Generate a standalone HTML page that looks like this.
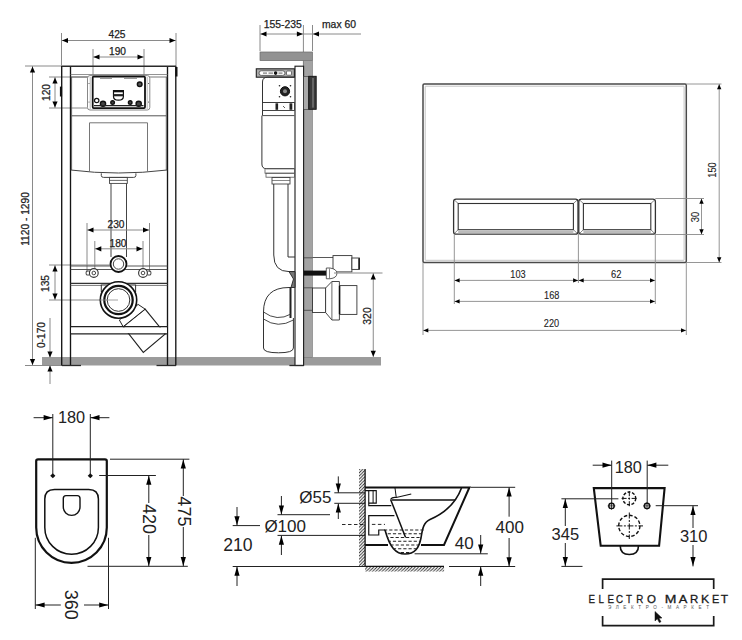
<!DOCTYPE html>
<html><head><meta charset="utf-8"><style>
html,body{margin:0;padding:0;background:#fff;}
body{width:742px;height:640px;overflow:hidden;position:relative;}
svg{position:absolute;left:0;top:0;font-family:"Liberation Sans",sans-serif;}
</style></head><body>
<svg width="742" height="640" viewBox="0 0 742 640">
<rect x="0" y="0" width="742" height="640" fill="#fff"/>
<rect x="42" y="357.5" width="339" height="8" fill="#9b9b9b" stroke="none" stroke-width="0" rx="0" />
<line x1="42" y1="357.5" x2="381" y2="357.5" stroke="#7a7a7a" stroke-width="0.6" />
<line x1="61.5" y1="33" x2="61.5" y2="66" stroke="#8a8a8a" stroke-width="1" />
<line x1="176" y1="33" x2="176" y2="66" stroke="#8a8a8a" stroke-width="1" />
<line x1="61.5" y1="40.5" x2="176" y2="40.5" stroke="#8a8a8a" stroke-width="1" />
<polygon points="62.00,40.50 68.00,37.90 68.00,43.10" fill="#000"/>
<polygon points="175.50,40.50 169.50,43.10 169.50,37.90" fill="#000"/>
<text x="117" y="37.62" font-size="10.2" text-anchor="middle" fill="#222" stroke="#222" stroke-width="0.25">425</text>
<line x1="93" y1="49" x2="93" y2="77" stroke="#8a8a8a" stroke-width="1" />
<line x1="144" y1="49" x2="144" y2="77" stroke="#8a8a8a" stroke-width="1" />
<line x1="93" y1="57" x2="144" y2="57" stroke="#8a8a8a" stroke-width="1" />
<polygon points="93.50,57.00 99.50,54.40 99.50,59.60" fill="#000"/>
<polygon points="143.50,57.00 137.50,59.60 137.50,54.40" fill="#000"/>
<text x="117.5" y="54.62" font-size="10.2" text-anchor="middle" fill="#222" stroke="#222" stroke-width="0.25">190</text>
<line x1="25" y1="66" x2="62" y2="66" stroke="#8a8a8a" stroke-width="1" />
<line x1="25" y1="365.5" x2="62" y2="365.5" stroke="#8a8a8a" stroke-width="1" />
<line x1="32.5" y1="66" x2="32.5" y2="365.5" stroke="#8a8a8a" stroke-width="1" />
<polygon points="32.50,66.50 35.10,72.50 29.90,72.50" fill="#000"/>
<polygon points="32.50,365.00 29.90,359.00 35.10,359.00" fill="#000"/>
<text x="25.4" y="222.62" font-size="10.2" text-anchor="middle" fill="#222" stroke="#222" stroke-width="0.25" transform="rotate(-90 25.4 219)">1120 - 1290</text>
<line x1="49" y1="77" x2="90" y2="77" stroke="#8a8a8a" stroke-width="1" />
<line x1="49" y1="108" x2="90" y2="108" stroke="#8a8a8a" stroke-width="1" />
<line x1="55" y1="77" x2="55" y2="108" stroke="#8a8a8a" stroke-width="1" />
<polygon points="55.00,77.50 57.60,83.50 52.40,83.50" fill="#000"/>
<polygon points="55.00,107.50 52.40,101.50 57.60,101.50" fill="#000"/>
<text x="46" y="96.12" font-size="10.2" text-anchor="middle" fill="#222" stroke="#222" stroke-width="0.25" transform="rotate(-90 46 92.5)">120</text>
<line x1="49" y1="265" x2="110" y2="265" stroke="#8a8a8a" stroke-width="1" />
<line x1="49" y1="300" x2="118" y2="300" stroke="#8a8a8a" stroke-width="1" />
<line x1="55" y1="265" x2="55" y2="300" stroke="#8a8a8a" stroke-width="1" />
<polygon points="55.00,265.50 57.60,271.50 52.40,271.50" fill="#000"/>
<polygon points="55.00,299.50 52.40,293.50 57.60,293.50" fill="#000"/>
<text x="45.8" y="287.12" font-size="10.2" text-anchor="middle" fill="#222" stroke="#222" stroke-width="0.25" transform="rotate(-90 45.8 283.5)">135</text>
<line x1="50" y1="318" x2="50" y2="357.5" stroke="#8a8a8a" stroke-width="1" />
<line x1="50" y1="365.5" x2="50" y2="384" stroke="#8a8a8a" stroke-width="1" />
<polygon points="50.00,357.50 47.40,351.50 52.60,351.50" fill="#000"/>
<polygon points="50.00,365.50 52.60,371.50 47.40,371.50" fill="#000"/>
<text x="41.6" y="338.62" font-size="10.2" text-anchor="middle" fill="#222" stroke="#222" stroke-width="0.25" transform="rotate(-90 41.6 335)">0-170</text>
<line x1="61.7" y1="66" x2="61.7" y2="365.5" stroke="#151515" stroke-width="1.35" />
<line x1="70.5" y1="66" x2="70.5" y2="365.5" stroke="#151515" stroke-width="1.35" />
<line x1="167.5" y1="66" x2="167.5" y2="365.5" stroke="#151515" stroke-width="1.35" />
<line x1="175.8" y1="66" x2="175.8" y2="365.5" stroke="#151515" stroke-width="1.35" />
<line x1="62" y1="66.3" x2="176" y2="66.3" stroke="#2a2a2a" stroke-width="1.4" />
<line x1="70.5" y1="74.5" x2="167.5" y2="74.5" stroke="#777" stroke-width="0.8" />
<line x1="70.5" y1="77" x2="167.5" y2="77" stroke="#555" stroke-width="0.8" />
<line x1="176.4" y1="67" x2="176.4" y2="76.5" stroke="#111" stroke-width="2.2" />
<line x1="61.0" y1="86.6" x2="61.0" y2="96.5" stroke="#111" stroke-width="2.2" />
<line x1="62" y1="365.5" x2="81" y2="365.5" stroke="#2a2a2a" stroke-width="1.3" />
<line x1="156.5" y1="365.5" x2="176" y2="365.5" stroke="#2a2a2a" stroke-width="1.3" />
<line x1="71.6" y1="77" x2="71.6" y2="170" stroke="#555" stroke-width="0.9" />
<line x1="166.3" y1="77" x2="166.3" y2="170" stroke="#555" stroke-width="0.9" />
<line x1="71.6" y1="115.8" x2="166.3" y2="115.8" stroke="#555" stroke-width="1" />
<path d="M70.6,170 Q118,176 167.3,170" fill="none" stroke="#444" stroke-width="1" />
<rect x="87.5" y="75.6" width="62.3" height="34.4" fill="#fff" stroke="#888" stroke-width="1" rx="2.5" />
<line x1="90.2" y1="77" x2="90.2" y2="109" stroke="#aaa" stroke-width="0.8" />
<line x1="147.2" y1="77" x2="147.2" y2="109" stroke="#aaa" stroke-width="0.8" />
<circle cx="89" cy="83.5" r="0.5" fill="#333" stroke="none" stroke-width="0" />
<circle cx="89" cy="102" r="0.5" fill="#333" stroke="none" stroke-width="0" />
<circle cx="148.5" cy="83.5" r="0.5" fill="#333" stroke="none" stroke-width="0" />
<circle cx="148.5" cy="102" r="0.5" fill="#333" stroke="none" stroke-width="0" />
<rect x="92.7" y="76.6" width="52.3" height="31.5" fill="none" stroke="#111" stroke-width="1.8" rx="1" />
<line x1="100" y1="78.5" x2="112" y2="78.5" stroke="#999" stroke-width="1" />
<line x1="124" y1="78.5" x2="137" y2="78.5" stroke="#999" stroke-width="1" />
<circle cx="139.7" cy="84.2" r="2.3" fill="#555" stroke="#111" stroke-width="1.5" />
<circle cx="96.7" cy="100.5" r="2.2" fill="none" stroke="#111" stroke-width="1.2" />
<circle cx="103" cy="103.8" r="2.6" fill="#444" stroke="#111" stroke-width="1.4" />
<circle cx="112.6" cy="102.6" r="1.8" fill="#444" stroke="#111" stroke-width="1.4" />
<circle cx="130.2" cy="102.6" r="1.8" fill="#444" stroke="#111" stroke-width="1.4" />
<circle cx="138.7" cy="103.8" r="2.6" fill="#444" stroke="#111" stroke-width="1.4" />
<line x1="94" y1="105.6" x2="143.5" y2="105.6" stroke="#222" stroke-width="1.2" />
<path d="M113.5,90.5 L123.4,90.5 L123.4,96.5 Q123.4,100.2 118.45,100.2 Q113.5,100.2 113.5,96.5 Z" fill="#fff" stroke="#111" stroke-width="1.2" />
<rect x="113.5" y="90.5" width="9.9" height="1.8" fill="#111" stroke="none" stroke-width="0" rx="0" />
<rect x="113.5" y="94.1" width="9.9" height="2.2" fill="#222" stroke="none" stroke-width="0" rx="0" />
<line x1="89.5" y1="122.8" x2="147.5" y2="122.8" stroke="#666" stroke-width="0.9" />
<line x1="89.5" y1="122.8" x2="89.5" y2="171.5" stroke="#666" stroke-width="0.9" />
<line x1="147.5" y1="122.8" x2="147.5" y2="171.5" stroke="#666" stroke-width="0.9" />
<path d="M101.3,173.3 L101.3,175.5 Q101.3,177.4 103.5,177.4 L133.7,177.4 Q135.9,177.4 135.9,175.5 L135.9,173.3" fill="none" stroke="#444" stroke-width="1" />
<rect x="109.5" y="177.4" width="17.8" height="6" fill="none" stroke="#444" stroke-width="0.9" rx="0" />
<line x1="109.5" y1="180.4" x2="127.3" y2="180.4" stroke="#444" stroke-width="0.8" />
<line x1="111" y1="183.4" x2="111" y2="257" stroke="#444" stroke-width="1" />
<line x1="126.5" y1="183.4" x2="126.5" y2="257" stroke="#444" stroke-width="1" />
<line x1="87" y1="223" x2="87" y2="272" stroke="#8a8a8a" stroke-width="1" />
<line x1="149.5" y1="223" x2="149.5" y2="272" stroke="#8a8a8a" stroke-width="1" />
<line x1="87" y1="230" x2="149.5" y2="230" stroke="#8a8a8a" stroke-width="1" />
<polygon points="87.50,230.00 93.50,227.40 93.50,232.60" fill="#000"/>
<polygon points="149.00,230.00 143.00,232.60 143.00,227.40" fill="#000"/>
<text x="116" y="227.62" font-size="10.2" text-anchor="middle" fill="#222" stroke="#222" stroke-width="0.25">230</text>
<line x1="94.8" y1="241" x2="94.8" y2="272" stroke="#8a8a8a" stroke-width="1" />
<line x1="143" y1="241" x2="143" y2="272" stroke="#8a8a8a" stroke-width="1" />
<line x1="94.8" y1="248.8" x2="143" y2="248.8" stroke="#8a8a8a" stroke-width="1" />
<polygon points="95.30,248.80 101.30,246.20 101.30,251.40" fill="#000"/>
<polygon points="142.50,248.80 136.50,251.40 136.50,246.20" fill="#000"/>
<text x="118" y="246.62" font-size="10.2" text-anchor="middle" fill="#222" stroke="#222" stroke-width="0.25">180</text>
<line x1="70.5" y1="266" x2="167.5" y2="266" stroke="#444" stroke-width="0.9" />
<line x1="70.5" y1="269.5" x2="167.5" y2="269.5" stroke="#444" stroke-width="0.9" />
<line x1="70.5" y1="283.4" x2="167.5" y2="283.4" stroke="#333" stroke-width="1.1" />
<line x1="70.5" y1="285.4" x2="167.5" y2="285.4" stroke="#555" stroke-width="0.8" />
<circle cx="118.5" cy="264" r="8.0" fill="#fff" stroke="#111" stroke-width="1.8" />
<circle cx="118.5" cy="264" r="5.2" fill="none" stroke="#444" stroke-width="1" />
<circle cx="93.8" cy="273" r="4.4" fill="#fff" stroke="#333" stroke-width="1.1" />
<circle cx="93.8" cy="273" r="1.8" fill="none" stroke="#333" stroke-width="0.9" />
<circle cx="143" cy="273" r="4.4" fill="#fff" stroke="#333" stroke-width="1.1" />
<circle cx="143" cy="273" r="1.8" fill="none" stroke="#333" stroke-width="0.9" />
<path d="M89.4,271 L86.5,271 Q85.5,273 86.5,275 L89.4,275" fill="none" stroke="#333" stroke-width="0.9" />
<path d="M147.4,271 L150.5,271 Q151.5,273 150.5,275 L147.4,275" fill="none" stroke="#333" stroke-width="0.9" />
<path d="M123.1,326.7 L145.1,309.1 L165.3,333.9 L143.3,352.4 Z" fill="#fff" stroke="#222" stroke-width="1.1" />
<path d="M119.4,320 L138.1,304.4 L145.1,309.1 L123.1,326.7 Z" fill="#fff" stroke="#222" stroke-width="1" />
<rect x="71.2" y="327.4" width="95.6" height="5.8" fill="#fff" stroke="none" stroke-width="0" rx="0" />
<line x1="70.5" y1="326.7" x2="167.5" y2="326.7" stroke="#222" stroke-width="1.2" />
<line x1="70.5" y1="333.9" x2="167.5" y2="333.9" stroke="#222" stroke-width="1.2" />
<rect x="101.3" y="285" width="34.3" height="6.5" fill="#fff" stroke="#333" stroke-width="1" rx="0" />
<circle cx="118.5" cy="300" r="18.2" fill="#fff" stroke="#111" stroke-width="1.6" />
<circle cx="118.5" cy="300" r="14.2" fill="none" stroke="#111" stroke-width="2.2" />
<circle cx="118.5" cy="300" r="11.3" fill="none" stroke="#333" stroke-width="1" />
<line x1="100" y1="300" x2="118" y2="300" stroke="#8a8a8a" stroke-width="0.8" />
<line x1="260" y1="25" x2="260" y2="51" stroke="#8a8a8a" stroke-width="1" />
<line x1="303.4" y1="25" x2="303.4" y2="66" stroke="#8a8a8a" stroke-width="1" />
<line x1="312.5" y1="25" x2="312.5" y2="51" stroke="#8a8a8a" stroke-width="1" />
<line x1="260" y1="34" x2="361" y2="34" stroke="#8a8a8a" stroke-width="1" />
<polygon points="260.50,34.00 266.50,31.40 266.50,36.60" fill="#000"/>
<polygon points="302.90,34.00 296.90,36.60 296.90,31.40" fill="#000"/>
<polygon points="313.00,34.00 319.00,31.40 319.00,36.60" fill="#000"/>
<text x="282.7" y="27.99" font-size="10.4" text-anchor="middle" fill="#222" stroke="#222" stroke-width="0.25">155-235</text>
<text x="339" y="27.99" font-size="10.4" text-anchor="middle" fill="#222" stroke="#222" stroke-width="0.25">max 60</text>
<rect x="260" y="52" width="52.5" height="8.6" fill="#929292" stroke="#6a6a6a" stroke-width="0.7" rx="0" />
<rect x="303.7" y="60.6" width="8.8" height="296.9" fill="#a3a3a3" stroke="#777" stroke-width="0.6" rx="0" />
<rect x="295" y="66.2" width="8.6" height="299.3" fill="#fff" stroke="#1a1a1a" stroke-width="1.1" rx="0" />
<rect x="303.7" y="76.3" width="5" height="33" fill="#aaa" stroke="#333" stroke-width="0.6" rx="0" />
<rect x="308.8" y="76.3" width="7.4" height="33" fill="#3a3a3a" stroke="#111" stroke-width="0.9" rx="0" />
<rect x="312" y="78" width="2" height="29.6" fill="#666" stroke="none" stroke-width="0" rx="0" />
<rect x="256.3" y="68.8" width="38.1" height="8.4" fill="#aaa" stroke="#222" stroke-width="1.1" rx="0" />
<rect x="259" y="70.8" width="26" height="4.6" fill="#fff" stroke="#444" stroke-width="0.8" rx="2.3" />
<rect x="286.5" y="71" width="5" height="4.2" fill="#fff" stroke="#444" stroke-width="0.7" rx="1" />
<line x1="263" y1="73.1" x2="267" y2="73.1" stroke="#777" stroke-width="1.2" />
<line x1="268.5" y1="73.1" x2="273" y2="73.1" stroke="#777" stroke-width="1.2" />
<line x1="278.5" y1="73.1" x2="282.5" y2="73.1" stroke="#777" stroke-width="1.2" />
<circle cx="275.6" cy="73.1" r="1.8" fill="#111" stroke="none" stroke-width="0" />
<path d="M262.5,115.6 L262.5,82 Q262.5,77.2 267.5,77.2 L294.4,77.2" fill="none" stroke="#333" stroke-width="1" />
<line x1="262.5" y1="102.5" x2="294.4" y2="102.5" stroke="#333" stroke-width="1" />
<rect x="262.5" y="102.5" width="32" height="8" fill="#fff" stroke="#333" stroke-width="0.9" rx="0" />
<rect x="275.5" y="103.3" width="2.6" height="6.5" fill="#222" stroke="none" stroke-width="0" rx="0" />
<rect x="289.5" y="103.3" width="2.8" height="6.5" fill="#222" stroke="none" stroke-width="0" rx="0" />
<path d="M283,106 L285,108" fill="none" stroke="#333" stroke-width="0.8" />
<circle cx="285" cy="91.3" r="4.6" fill="#222" stroke="#111" stroke-width="1" />
<circle cx="285" cy="91.3" r="2.0" fill="#888" stroke="none" stroke-width="0" />
<circle cx="279.5" cy="85.8" r="0.8" fill="#222" stroke="none" stroke-width="0" />
<circle cx="290.5" cy="85.8" r="0.8" fill="#222" stroke="none" stroke-width="0" />
<circle cx="279.5" cy="96.8" r="0.8" fill="#222" stroke="none" stroke-width="0" />
<circle cx="290.5" cy="96.8" r="0.8" fill="#222" stroke="none" stroke-width="0" />
<line x1="262.5" y1="115.6" x2="294.4" y2="115.6" stroke="#333" stroke-width="0.9" />
<path d="M261.9,115.6 L261.9,164 Q261.9,168.7 266.5,168.7 L294.4,168.7" fill="none" stroke="#333" stroke-width="1" />
<rect x="265" y="168.7" width="29.4" height="4.5" fill="none" stroke="#555" stroke-width="0.8" rx="0" />
<rect x="266" y="173.2" width="28.4" height="4" fill="none" stroke="#555" stroke-width="0.8" rx="0" />
<rect x="272" y="177.5" width="18" height="6.5" fill="none" stroke="#444" stroke-width="0.9" rx="0" />
<line x1="272" y1="180.5" x2="290" y2="180.5" stroke="#555" stroke-width="0.7" />
<path d="M273.75,184 L273.75,255 Q273.75,271.6 289,271.6 L295,271.6" fill="none" stroke="#333" stroke-width="1" />
<path d="M288,184 L288,257 L295,257" fill="none" stroke="#333" stroke-width="1" />
<path d="M289,271.6 L293.5,279 L291,287.5 L295,287.5 L295,271.6 Z" fill="#777" stroke="#222" stroke-width="0.9" />
<line x1="303.7" y1="257.8" x2="312.5" y2="257.8" stroke="#333" stroke-width="0.7" />
<line x1="303.7" y1="287.8" x2="312.5" y2="287.8" stroke="#333" stroke-width="0.7" />
<line x1="303.7" y1="310.3" x2="312.5" y2="310.3" stroke="#333" stroke-width="0.7" />
<path d="M312.5,257.5 L333,257.5" fill="none" stroke="#444" stroke-width="0.9" />
<rect x="333" y="255.6" width="18.9" height="16.3" fill="#fff" stroke="#333" stroke-width="0.9" rx="0" />
<rect x="351.9" y="258" width="7.5" height="11.4" fill="#fff" stroke="#333" stroke-width="0.9" rx="0" />
<line x1="359" y1="258.2" x2="359" y2="269.2" stroke="#111" stroke-width="1.4" />
<rect x="303.7" y="270.6" width="22.6" height="5" fill="#111" stroke="none" stroke-width="0" rx="0" />
<path d="M326.3,268 L330,268 Q336.9,269 336.9,273.4 Q336.9,278 330,278.75 L326.3,278.75 Z" fill="#fff" stroke="#333" stroke-width="0.8" />
<line x1="329.5" y1="268.5" x2="329.5" y2="278.3" stroke="#555" stroke-width="0.7" />
<rect x="312.5" y="288" width="13.1" height="24.5" fill="#fff" stroke="#333" stroke-width="0.9" rx="0" />
<path d="M325.6,288 L331.9,281.5 L339.4,281.5 L339.4,320 L331.9,320 L325.6,312.5 Z" fill="#fff" stroke="#333" stroke-width="0.9" />
<line x1="331.9" y1="281.5" x2="331.9" y2="320" stroke="#444" stroke-width="0.8" />
<rect x="339.4" y="285.6" width="17.5" height="28.8" fill="#fff" stroke="#333" stroke-width="0.9" rx="0" />
<line x1="339.6" y1="286" x2="339.6" y2="314" stroke="#111" stroke-width="1.5" />
<path d="M263.5,312 L263.5,348 Q263.5,352.8 278.5,352.8 Q293.4,352.8 293.4,348 L293.4,318" fill="#fff" stroke="#333" stroke-width="1" />
<path d="M263.5,312 Q263.5,287.5 289,287.5 L295,287.5" fill="none" stroke="#333" stroke-width="1" />
<line x1="290.5" y1="287.5" x2="290.5" y2="318" stroke="#222" stroke-width="2" />
<path d="M263.5,312 Q277,322 291,314" fill="none" stroke="#333" stroke-width="0.9" />
<path d="M263.5,319 Q278,329 293.4,320" fill="none" stroke="#333" stroke-width="0.9" />
<line x1="289.4" y1="365.5" x2="303.7" y2="365.5" stroke="#2a2a2a" stroke-width="1.3" />
<line x1="334" y1="273" x2="382.5" y2="273" stroke="#8a8a8a" stroke-width="1" />
<line x1="373.25" y1="273" x2="373.25" y2="357" stroke="#8a8a8a" stroke-width="1" />
<polygon points="373.25,273.50 375.85,279.50 370.65,279.50" fill="#000"/>
<polygon points="373.25,356.80 370.65,350.80 375.85,350.80" fill="#000"/>
<text x="367.3" y="319.69" font-size="10.4" text-anchor="middle" fill="#222" stroke="#222" stroke-width="0.25" transform="rotate(-90 367.3 316)">320</text>
<rect x="423" y="84" width="263.3" height="178.5" fill="#fff" stroke="#4a4a4a" stroke-width="1.5" rx="1.2" />
<rect x="425.2" y="86.2" width="258.9" height="174.1" fill="none" stroke="#aaa" stroke-width="0.7" rx="0.5" />
<rect x="453.6" y="199.2" width="124.39999999999998" height="35" fill="#fff" stroke="#333" stroke-width="1.3" rx="2.5" />
<rect x="458.20000000000005" y="203.5" width="115.19999999999997" height="26.2" fill="none" stroke="#333" stroke-width="1.1" rx="0" />
<line x1="454.6" y1="200.2" x2="458.20000000000005" y2="203.5" stroke="#555" stroke-width="0.7" />
<line x1="577" y1="200.2" x2="573.4" y2="203.5" stroke="#555" stroke-width="0.7" />
<line x1="454.6" y1="233.2" x2="458.20000000000005" y2="229.7" stroke="#555" stroke-width="0.7" />
<line x1="577" y1="233.2" x2="573.4" y2="229.7" stroke="#555" stroke-width="0.7" />
<rect x="458.20000000000005" y="230.5" width="115.19999999999997" height="2.8" fill="#bbb" stroke="none" stroke-width="0" rx="0" />
<rect x="578.8" y="199.2" width="76.60000000000002" height="35" fill="#fff" stroke="#333" stroke-width="1.3" rx="2.5" />
<rect x="583.4" y="203.5" width="67.40000000000002" height="26.2" fill="none" stroke="#333" stroke-width="1.1" rx="0" />
<line x1="579.8" y1="200.2" x2="583.4" y2="203.5" stroke="#555" stroke-width="0.7" />
<line x1="654.4" y1="200.2" x2="650.8" y2="203.5" stroke="#555" stroke-width="0.7" />
<line x1="579.8" y1="233.2" x2="583.4" y2="229.7" stroke="#555" stroke-width="0.7" />
<line x1="654.4" y1="233.2" x2="650.8" y2="229.7" stroke="#555" stroke-width="0.7" />
<rect x="583.4" y="230.5" width="67.40000000000002" height="2.8" fill="#bbb" stroke="none" stroke-width="0" rx="0" />
<line x1="423" y1="262.5" x2="423" y2="335" stroke="#8a8a8a" stroke-width="0.9" />
<line x1="686.3" y1="262.5" x2="686.3" y2="335" stroke="#8a8a8a" stroke-width="0.9" />
<line x1="454.3" y1="234" x2="454.3" y2="304" stroke="#8a8a8a" stroke-width="0.9" />
<line x1="578.4" y1="234" x2="578.4" y2="283" stroke="#8a8a8a" stroke-width="0.9" />
<line x1="655.3" y1="234" x2="655.3" y2="304" stroke="#8a8a8a" stroke-width="0.9" />
<line x1="686.3" y1="84" x2="721.5" y2="84" stroke="#8a8a8a" stroke-width="0.9" />
<line x1="686.3" y1="262.5" x2="721.5" y2="262.5" stroke="#8a8a8a" stroke-width="0.9" />
<line x1="655.3" y1="198.5" x2="704" y2="198.5" stroke="#8a8a8a" stroke-width="0.9" />
<line x1="655.3" y1="234.5" x2="704" y2="234.5" stroke="#8a8a8a" stroke-width="0.9" />
<line x1="454.3" y1="280.4" x2="578.4" y2="280.4" stroke="#8a8a8a" stroke-width="0.9" />
<polygon points="454.60,280.40 459.60,278.20 459.60,282.60" fill="#000"/>
<polygon points="578.10,280.40 573.10,282.60 573.10,278.20" fill="#000"/>
<line x1="578.4" y1="280.4" x2="655.3" y2="280.4" stroke="#8a8a8a" stroke-width="0.9" />
<polygon points="578.70,280.40 583.70,278.20 583.70,282.60" fill="#000"/>
<polygon points="655.00,280.40 650.00,282.60 650.00,278.20" fill="#000"/>
<line x1="454.3" y1="301.4" x2="655.3" y2="301.4" stroke="#8a8a8a" stroke-width="0.9" />
<polygon points="454.60,301.40 459.60,299.20 459.60,303.60" fill="#000"/>
<polygon points="655.00,301.40 650.00,303.60 650.00,299.20" fill="#000"/>
<line x1="423" y1="330.4" x2="686.3" y2="330.4" stroke="#8a8a8a" stroke-width="0.9" />
<polygon points="423.30,330.40 428.30,328.20 428.30,332.60" fill="#000"/>
<polygon points="686.00,330.40 681.00,332.60 681.00,328.20" fill="#000"/>
<text x="518" y="278.06" font-size="10.3" text-anchor="middle" fill="#222" stroke="#222" stroke-width="0.1" textLength="15.3" lengthAdjust="spacingAndGlyphs">103</text>
<text x="616.3" y="278.06" font-size="10.3" text-anchor="middle" fill="#222" stroke="#222" stroke-width="0.1" textLength="10.4" lengthAdjust="spacingAndGlyphs">62</text>
<text x="551.7" y="298.56" font-size="10.3" text-anchor="middle" fill="#222" stroke="#222" stroke-width="0.1" textLength="15.3" lengthAdjust="spacingAndGlyphs">168</text>
<text x="551.5" y="326.76" font-size="10.3" text-anchor="middle" fill="#222" stroke="#222" stroke-width="0.1" textLength="15.3" lengthAdjust="spacingAndGlyphs">220</text>
<line x1="719.2" y1="84" x2="719.2" y2="262.5" stroke="#8a8a8a" stroke-width="0.9" />
<polygon points="719.20,84.30 721.40,89.30 717.00,89.30" fill="#000"/>
<polygon points="719.20,262.20 717.00,257.20 721.40,257.20" fill="#000"/>
<text x="711.9" y="173.66" font-size="10.3" text-anchor="middle" fill="#222" stroke="#222" stroke-width="0.1" transform="rotate(-90 711.9 170)" textLength="15.3" lengthAdjust="spacingAndGlyphs">150</text>
<line x1="701.5" y1="198.5" x2="701.5" y2="234.5" stroke="#8a8a8a" stroke-width="0.9" />
<polygon points="701.50,198.80 703.70,203.80 699.30,203.80" fill="#000"/>
<polygon points="701.50,234.20 699.30,229.20 703.70,229.20" fill="#000"/>
<text x="695.3" y="220.66" font-size="10.3" text-anchor="middle" fill="#222" stroke="#222" stroke-width="0.1" transform="rotate(-90 695.3 217)" textLength="10.4" lengthAdjust="spacingAndGlyphs">30</text>
<path d="M36.2,527.6 L36.2,461 Q36.2,459.4 38,459.4 L105,459.4 Q106.8,459.4 106.8,461 L106.8,527.6 A35.3,35.3 0 0 1 36.2,527.6 Z" fill="none" stroke="#111" stroke-width="2.2" />
<path d="M44.8,527.4 L44.8,499 Q44.8,489.4 54.5,489.4 L88.7,489.4 Q98.4,489.4 98.4,499 L98.4,527.4 A26.8,26.8 0 0 1 44.8,527.4 Z" fill="none" stroke="#111" stroke-width="1.5" />
<path d="M63.3,507 L63.3,498.5 Q63.3,495.6 66,495.6 L77.3,495.6 Q80,495.6 80,498.5 L80,507 A8.35,8.35 0 0 1 63.3,507 Z" fill="none" stroke="#111" stroke-width="1.4" />
<polygon points="52.8,473.3 55.4,475.8 52.8,478.3 50.199999999999996,475.8" fill="#111"/>
<polygon points="90.3,473.3 92.89999999999999,475.8 90.3,478.3 87.7,475.8" fill="#111"/>
<line x1="52.8" y1="414" x2="52.8" y2="474" stroke="#222" stroke-width="1" />
<line x1="90.3" y1="414" x2="90.3" y2="474" stroke="#222" stroke-width="1" />
<line x1="33.6" y1="417.7" x2="52.8" y2="417.7" stroke="#222" stroke-width="1" />
<line x1="90.3" y1="417.7" x2="109.4" y2="417.7" stroke="#222" stroke-width="1" />
<polygon points="52.60,417.70 43.60,420.30 43.60,415.10" fill="#000"/>
<polygon points="90.50,417.70 99.50,415.10 99.50,420.30" fill="#000"/>
<text x="71.6" y="423.39" font-size="16.3" text-anchor="middle" fill="#222">180</text>
<line x1="110" y1="459.2" x2="189.4" y2="459.2" stroke="#222" stroke-width="1" />
<line x1="99.2" y1="475.5" x2="155.9" y2="475.5" stroke="#222" stroke-width="1" />
<line x1="87.5" y1="566.3" x2="187.8" y2="566.3" stroke="#222" stroke-width="1" />
<line x1="148.8" y1="475.5" x2="148.8" y2="503" stroke="#222" stroke-width="1" />
<line x1="148.8" y1="535" x2="148.8" y2="566.3" stroke="#222" stroke-width="1" />
<polygon points="148.80,475.80 151.40,484.80 146.20,484.80" fill="#000"/>
<polygon points="148.80,566.00 146.20,557.00 151.40,557.00" fill="#000"/>
<text x="149.8" y="525.39" font-size="18" text-anchor="middle" fill="#222" transform="rotate(90 149.8 519)">420</text>
<line x1="183.3" y1="459.2" x2="183.3" y2="496" stroke="#222" stroke-width="1" />
<line x1="183.3" y1="527" x2="183.3" y2="566.3" stroke="#222" stroke-width="1" />
<polygon points="183.30,459.50 185.90,468.50 180.70,468.50" fill="#000"/>
<polygon points="183.30,566.00 180.70,557.00 185.90,557.00" fill="#000"/>
<text x="184.3" y="517.79" font-size="18" text-anchor="middle" fill="#222" transform="rotate(90 184.3 511.4)">475</text>
<line x1="35.3" y1="537.8" x2="35.3" y2="609" stroke="#222" stroke-width="1" />
<line x1="108.5" y1="537.8" x2="108.5" y2="609" stroke="#222" stroke-width="1" />
<line x1="35.3" y1="605" x2="60.8" y2="605" stroke="#222" stroke-width="1" />
<line x1="84" y1="605" x2="108.5" y2="605" stroke="#222" stroke-width="1" />
<polygon points="35.60,605.00 44.60,602.40 44.60,607.60" fill="#000"/>
<polygon points="108.20,605.00 99.20,607.60 99.20,602.40" fill="#000"/>
<text x="71.8" y="611.19" font-size="18" text-anchor="middle" fill="#222" transform="rotate(90 71.8 604.8)">360</text>
<defs><pattern id="h" width="3.2" height="3.2" patternUnits="userSpaceOnUse"><path d="M0,3.2 L3.2,0 M-1,1 L1,-1 M2.2,4.2 L4.2,2.2" stroke="#222" stroke-width="0.85"/></pattern></defs>
<rect x="359" y="469" width="6" height="97" fill="url(#h)" stroke="none" stroke-width="0" rx="0" />
<line x1="365.1" y1="469" x2="365.1" y2="566.3" stroke="#111" stroke-width="1.3" />
<line x1="365.1" y1="566.3" x2="444" y2="566.3" stroke="#111" stroke-width="1.3" />
<rect x="365.1" y="567" width="79" height="4.5" fill="url(#h)" stroke="none" stroke-width="0" rx="0" />
<path d="M365.1,487.5 L469.4,487.5 L444,545 L421,545" fill="none" stroke="#111" stroke-width="2" />
<line x1="365.1" y1="545" x2="388" y2="545" stroke="#111" stroke-width="2" />
<clipPath id="bw"><path d="M385,530 C390,548 396,554 405,554 C415,554 419,548 421,538 L422.3,530 Z"/></clipPath>
<path d="M385,530 C390,548 396,554 405,554 C415,554 419,548 421,538 C422.5,528 424,522 430,519.5 C445,513 456,503 461.5,488" fill="none" stroke="#111" stroke-width="1.6" />
<line x1="382.5" y1="533.75" x2="428" y2="533.75" stroke="#222" stroke-width="1.05" stroke-dasharray="3.2,2" clip-path="url(#bw)"/>
<line x1="380" y1="537.5" x2="428" y2="537.5" stroke="#222" stroke-width="1.05" stroke-dasharray="3.2,2" clip-path="url(#bw)"/>
<line x1="382.5" y1="541.25" x2="428" y2="541.25" stroke="#222" stroke-width="1.05" stroke-dasharray="3.2,2" clip-path="url(#bw)"/>
<line x1="380" y1="545" x2="428" y2="545" stroke="#222" stroke-width="1.05" stroke-dasharray="3.2,2" clip-path="url(#bw)"/>
<line x1="382.5" y1="548.75" x2="428" y2="548.75" stroke="#222" stroke-width="1.05" stroke-dasharray="3.2,2" clip-path="url(#bw)"/>
<line x1="380" y1="552.5" x2="428" y2="552.5" stroke="#222" stroke-width="1.05" stroke-dasharray="3.2,2" clip-path="url(#bw)"/>
<line x1="384" y1="530" x2="424" y2="530" stroke="#222" stroke-width="1.05" stroke-dasharray="3.2,2"/>
<path d="M390.6,499.4 L405.6,537.5" fill="none" stroke="#111" stroke-width="1.5" />
<line x1="391.9" y1="500" x2="455" y2="500" stroke="#111" stroke-width="1.3" />
<path d="M390.6,499.4 Q392,497 396.25,497.5 L411.25,494" fill="none" stroke="#111" stroke-width="1.2" />
<path d="M396.25,497.5 L395,488" fill="none" stroke="#111" stroke-width="1" />
<path d="M365.1,490.6 L376.25,490.6 L376.25,503.1 L368.75,503.1" fill="none" stroke="#111" stroke-width="1.1" />
<line x1="373.1" y1="491" x2="373.1" y2="503" stroke="#111" stroke-width="1" />
<path d="M368.75,490.6 L368.75,505.6 L391.25,505.6" fill="none" stroke="#111" stroke-width="1.1" />
<path d="M394.4,515.6 L368.75,515.6 L368.75,535 L378.75,535 L378.75,530 L385,530" fill="none" stroke="#111" stroke-width="1.2" />
<line x1="371.9" y1="524.4" x2="385" y2="524.4" stroke="#111" stroke-width="0.9" stroke-dasharray="3.5,2.5"/>
<line x1="342" y1="524.5" x2="365" y2="524.5" stroke="#111" stroke-width="0.9" stroke-dasharray="3.5,2.5"/>
<line x1="232.7" y1="566.5" x2="365" y2="566.5" stroke="#222" stroke-width="1" />
<line x1="232.7" y1="525.6" x2="260" y2="525.6" stroke="#222" stroke-width="1" />
<line x1="237" y1="507" x2="237" y2="525.6" stroke="#222" stroke-width="1" />
<polygon points="237.00,525.30 234.40,516.30 239.60,516.30" fill="#000"/>
<line x1="237" y1="566.8" x2="237" y2="586" stroke="#222" stroke-width="1" />
<polygon points="237.00,566.80 239.60,575.80 234.40,575.80" fill="#000"/>
<text x="223.2" y="550.7" font-size="17.6" text-anchor="start" fill="#222" >210</text>
<line x1="277.5" y1="514.7" x2="330" y2="514.7" stroke="#222" stroke-width="1" />
<line x1="277.5" y1="535.4" x2="365" y2="535.4" stroke="#222" stroke-width="1" />
<line x1="281.4" y1="496" x2="281.4" y2="514.7" stroke="#222" stroke-width="1" />
<polygon points="281.40,514.40 278.80,505.40 284.00,505.40" fill="#000"/>
<line x1="281.4" y1="535.7" x2="281.4" y2="555" stroke="#222" stroke-width="1" />
<polygon points="281.40,535.70 284.00,544.70 278.80,544.70" fill="#000"/>
<text x="264.4" y="531.7" font-size="17" text-anchor="start" fill="#222" >&#216;100</text>
<line x1="334.3" y1="492.8" x2="365" y2="492.8" stroke="#222" stroke-width="1" />
<line x1="334.3" y1="503.3" x2="365" y2="503.3" stroke="#222" stroke-width="1" />
<line x1="338.3" y1="476.4" x2="338.3" y2="492.8" stroke="#222" stroke-width="1" />
<polygon points="338.30,492.50 335.70,483.50 340.90,483.50" fill="#000"/>
<line x1="338.3" y1="503.6" x2="338.3" y2="519" stroke="#222" stroke-width="1" />
<polygon points="338.30,503.60 340.90,512.60 335.70,512.60" fill="#000"/>
<text x="299.3" y="503.3" font-size="17" text-anchor="start" fill="#222" >&#216;55</text>
<line x1="470.5" y1="487.3" x2="515.2" y2="487.3" stroke="#222" stroke-width="1" />
<line x1="449" y1="566.5" x2="515.2" y2="566.5" stroke="#222" stroke-width="1" />
<line x1="509.1" y1="487.3" x2="509.1" y2="516.7" stroke="#222" stroke-width="1" />
<line x1="509.1" y1="538" x2="509.1" y2="566.5" stroke="#222" stroke-width="1" />
<polygon points="509.10,487.60 511.70,496.60 506.50,496.60" fill="#000"/>
<polygon points="509.10,566.20 506.50,557.20 511.70,557.20" fill="#000"/>
<text x="509.8" y="533" font-size="17" text-anchor="middle" fill="#222" >400</text>
<line x1="414.6" y1="553.8" x2="487.8" y2="553.8" stroke="#222" stroke-width="1" />
<line x1="480.7" y1="535" x2="480.7" y2="553.8" stroke="#222" stroke-width="1" />
<polygon points="480.70,553.50 478.10,544.50 483.30,544.50" fill="#000"/>
<line x1="480.7" y1="566.8" x2="480.7" y2="586" stroke="#222" stroke-width="1" />
<polygon points="480.70,566.80 483.30,575.80 478.10,575.80" fill="#000"/>
<text x="464.3" y="549.3" font-size="17" text-anchor="middle" fill="#222" >40</text>
<path d="M593.8,488.1 L664.6,488.1 L659.1,545.8 L600.7,545.8 Z" fill="none" stroke="#111" stroke-width="2.1" />
<path d="M620.2,545.8 Q620.2,554.5 629.3,554.5 Q638.5,554.5 638.5,545.8" fill="none" stroke="#111" stroke-width="1.6" />
<circle cx="611.5" cy="505.9" r="2.7" fill="none" stroke="#111" stroke-width="1.4" />
<line x1="607.7" y1="505.9" x2="615.3" y2="505.9" stroke="#111" stroke-width="0.8" />
<line x1="611.5" y1="502.1" x2="611.5" y2="509.7" stroke="#111" stroke-width="0.8" />
<circle cx="647" cy="505.9" r="2.7" fill="none" stroke="#111" stroke-width="1.4" />
<line x1="643.2" y1="505.9" x2="650.8" y2="505.9" stroke="#111" stroke-width="0.8" />
<line x1="647" y1="502.1" x2="647" y2="509.7" stroke="#111" stroke-width="0.8" />
<circle cx="629.3" cy="498.4" r="6.4" fill="none" stroke="#111" stroke-width="1.4" stroke-dasharray="3,1.6"/>
<line x1="621.6" y1="498.4" x2="637.5" y2="498.4" stroke="#111" stroke-width="1" stroke-dasharray="5,1.5,2,1.5"/>
<line x1="629.3" y1="491.2" x2="629.3" y2="507" stroke="#111" stroke-width="1" stroke-dasharray="5,1.5,2,1.5"/>
<circle cx="629.3" cy="525.9" r="10.6" fill="none" stroke="#111" stroke-width="1.4" stroke-dasharray="3.5,2"/>
<line x1="616.4" y1="525.9" x2="643" y2="525.9" stroke="#111" stroke-width="1" stroke-dasharray="6,1.5,2,1.5"/>
<line x1="629.3" y1="512.5" x2="629.3" y2="539" stroke="#111" stroke-width="1" stroke-dasharray="6,1.5,2,1.5"/>
<line x1="611.7" y1="460.6" x2="611.7" y2="503" stroke="#222" stroke-width="1" />
<line x1="647.2" y1="460.6" x2="647.2" y2="503" stroke="#222" stroke-width="1" />
<line x1="592.7" y1="465.2" x2="611.7" y2="465.2" stroke="#222" stroke-width="1" />
<line x1="647.2" y1="465.2" x2="668.3" y2="465.2" stroke="#222" stroke-width="1" />
<polygon points="611.50,465.20 602.50,467.80 602.50,462.60" fill="#000"/>
<polygon points="647.40,465.20 656.40,462.60 656.40,467.80" fill="#000"/>
<text x="628.3" y="472.59" font-size="16.3" text-anchor="middle" fill="#222">180</text>
<line x1="561.4" y1="498.8" x2="618.4" y2="498.8" stroke="#222" stroke-width="1" />
<line x1="561.4" y1="566.4" x2="582.5" y2="566.4" stroke="#222" stroke-width="1" />
<line x1="565.3" y1="498.8" x2="565.3" y2="526" stroke="#222" stroke-width="1" />
<line x1="565.3" y1="543" x2="565.3" y2="566.4" stroke="#222" stroke-width="1" />
<polygon points="565.30,499.10 567.90,508.10 562.70,508.10" fill="#000"/>
<polygon points="565.30,566.10 562.70,557.10 567.90,557.10" fill="#000"/>
<text x="565.3" y="540.2" font-size="16.5" text-anchor="middle" fill="#222" >345</text>
<line x1="655.7" y1="505.7" x2="698" y2="505.7" stroke="#222" stroke-width="1" />
<line x1="693" y1="505.7" x2="693" y2="528" stroke="#222" stroke-width="1" />
<line x1="693" y1="545" x2="693" y2="566.4" stroke="#222" stroke-width="1" />
<polygon points="693.00,506.00 695.60,515.00 690.40,515.00" fill="#000"/>
<polygon points="693.00,566.10 690.40,557.10 695.60,557.10" fill="#000"/>
<text x="693.7" y="542" font-size="16.5" text-anchor="middle" fill="#222" >310</text>
<path d="M602.6,589 L602.6,579.1 L713.7,579.1 L713.7,589" fill="none" stroke="#1a1a1a" stroke-width="1.7" />
<path d="M602.6,616 L602.6,625.6 L713.7,625.6 L713.7,616" fill="none" stroke="#1a1a1a" stroke-width="1.7" />
<text x="591.8" y="602.8" font-size="11.5" text-anchor="middle" fill="#1a1a1a" transform="translate(591.80 0) scale(0.85 1) translate(-591.80 0)" stroke="#1a1a1a" stroke-width="0.3">E</text>
<text x="601.15" y="602.8" font-size="11.5" text-anchor="middle" fill="#1a1a1a" transform="translate(601.15 0) scale(0.85 1) translate(-601.15 0)" stroke="#1a1a1a" stroke-width="0.3">L</text>
<text x="610.7" y="602.8" font-size="11.5" text-anchor="middle" fill="#1a1a1a" transform="translate(610.70 0) scale(0.85 1) translate(-610.70 0)" stroke="#1a1a1a" stroke-width="0.3">E</text>
<text x="619.65" y="602.8" font-size="11.5" text-anchor="middle" fill="#1a1a1a" transform="translate(619.65 0) scale(0.85 1) translate(-619.65 0)" stroke="#1a1a1a" stroke-width="0.3">C</text>
<text x="629.1" y="602.8" font-size="11.5" text-anchor="middle" fill="#1a1a1a" transform="translate(629.10 0) scale(0.85 1) translate(-629.10 0)" stroke="#1a1a1a" stroke-width="0.3">T</text>
<text x="639.9" y="602.8" font-size="11.5" text-anchor="middle" fill="#1a1a1a" transform="translate(639.90 0) scale(0.85 1) translate(-639.90 0)" stroke="#1a1a1a" stroke-width="0.3">R</text>
<text x="651.45" y="602.8" font-size="11.5" text-anchor="middle" fill="#1a1a1a" transform="translate(651.45 0) scale(1.0 1) translate(-651.45 0)" stroke="#1a1a1a" stroke-width="0.3">O</text>
<text x="670.65" y="602.8" font-size="11.5" text-anchor="middle" fill="#1a1a1a" transform="translate(670.65 0) scale(1.22 1) translate(-670.65 0)" stroke="#1a1a1a" stroke-width="0.3">M</text>
<text x="683.0" y="602.8" font-size="11.5" text-anchor="middle" fill="#1a1a1a" transform="translate(683.00 0) scale(1.12 1) translate(-683.00 0)" stroke="#1a1a1a" stroke-width="0.3">A</text>
<text x="694.1" y="602.8" font-size="11.5" text-anchor="middle" fill="#1a1a1a" transform="translate(694.10 0) scale(1.0 1) translate(-694.10 0)" stroke="#1a1a1a" stroke-width="0.3">R</text>
<text x="705.15" y="602.8" font-size="11.5" text-anchor="middle" fill="#1a1a1a" transform="translate(705.15 0) scale(1.07 1) translate(-705.15 0)" stroke="#1a1a1a" stroke-width="0.3">K</text>
<text x="715.65" y="602.8" font-size="11.5" text-anchor="middle" fill="#1a1a1a" transform="translate(715.65 0) scale(0.95 1) translate(-715.65 0)" stroke="#1a1a1a" stroke-width="0.3">E</text>
<text x="724.3" y="602.8" font-size="11.5" text-anchor="middle" fill="#1a1a1a" transform="translate(724.30 0) scale(1.04 1) translate(-724.30 0)" stroke="#1a1a1a" stroke-width="0.3">T</text>
<text x="608" y="608.8" font-size="4.6" fill="#555" textLength="101" lengthAdjust="spacing">ЭЛЕКТРО-МАРКЕТ</text>
<path d="M655,611.5 L655,621 L657.3,618.8 L659.3,622.6 L661,621.8 L659,618.2 L662,618 Z" fill="#111" stroke="#111" stroke-width="0.5" />
</svg>
</body></html>
